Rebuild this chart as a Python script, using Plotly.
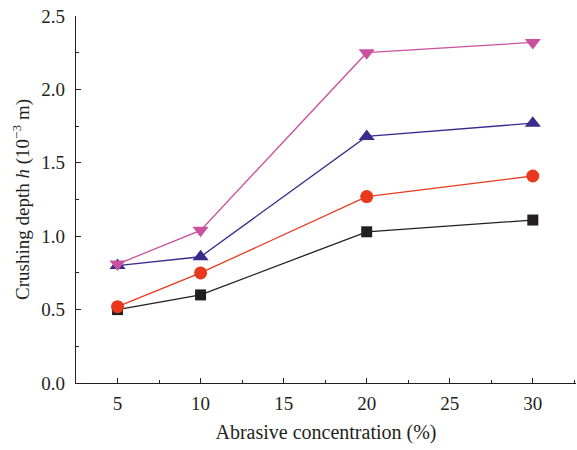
import plotly.graph_objects as go

concentration = [5, 10, 20, 30]
series_names = ["S1", "S2", "S3", "S4"]
black_vals = [0.50, 0.60, 1.03, 1.11]
red_vals = [0.52, 0.75, 1.27, 1.41]
blue_vals = [0.80, 0.86, 1.68, 1.77]
pink_vals = [0.81, 1.04, 2.25, 2.32]

colors = ["#231f20", "#e8391d", "#3b2a8c", "#c9519f"]
symbols = ["square", "circle", "triangle-up", "triangle-down"]
sizes = [11, 13, 14, 14]

fig = go.Figure()
for name, vals, c, s, sz in zip(series_names, [black_vals, red_vals, blue_vals, pink_vals], colors, symbols, sizes):
    fig.add_trace(go.Scatter(x=concentration, y=vals, mode="lines+markers", name=name,
                             line=dict(color=c, width=1.3),
                             marker=dict(symbol=s, color=c, size=sz, line=dict(width=0)),
                             showlegend=False, cliponaxis=False))

font = dict(family="Liberation Serif, Times New Roman, serif", color="#231f20")
fig.update_layout(
    width=577, height=450,
    margin=dict(l=76, r=1, t=16, b=67),
    plot_bgcolor="white", paper_bgcolor="white",
    font=dict(**font, size=19),
)
fig.update_xaxes(range=[2.5, 32.6], tickvals=[5, 10, 15, 20, 25, 30], showgrid=False, zeroline=False,
                 showline=True, linecolor="#231f20", linewidth=1.3,
                 ticks="inside", ticklen=5, tickwidth=1.2, tickcolor="#231f20",
                 tickfont=dict(size=19), ticklabelstandoff=3,
                 minor=dict(ticks="inside", ticklen=3, tickwidth=1.2, tickcolor="#231f20", dtick=2.5, tick0=2.5, showgrid=False),
                 title=dict(text="Abrasive concentration (%)", font=dict(size=20), standoff=12))
fig.update_yaxes(range=[0, 2.5], tickvals=[0, 0.5, 1.0, 1.5, 2.0, 2.5], ticktext=["0.0", "0.5", "1.0", "1.5", "2.0", "2.5"],
                 showgrid=False, zeroline=False,
                 showline=True, linecolor="#231f20", linewidth=1.3,
                 ticks="inside", ticklen=5, tickwidth=1.2, tickcolor="#231f20",
                 tickfont=dict(size=19), ticklabelstandoff=6,
                 minor=dict(ticks="inside", ticklen=3, tickwidth=1.2, tickcolor="#231f20", dtick=0.25, tick0=0, showgrid=False),
                 title=dict(text="Crushing depth <i>h</i> (10<sup>−3</sup> m)", font=dict(size=19), standoff=6))

fig.write_html("out.html")
